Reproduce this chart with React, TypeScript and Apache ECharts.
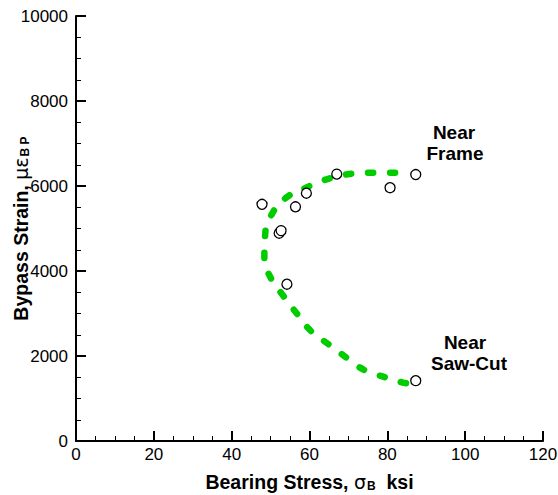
import React, { useEffect, useRef } from "react";
import * as echarts from "echarts";

// Green fitted curve, from the "Near Frame" end to the "Near Saw-Cut" end
const curveX = [82.0, 75.5, 69.8, 64.4, 59.1, 54.0, 50.3, 48.6, 48.4, 50.1, 53.3, 56.7, 60.3, 64.8, 69.4, 74.1, 79.4, 84.0, 85.5];
const curveY = [6310, 6313, 6275, 6158, 5960, 5725, 5334, 4847, 4322, 3828, 3412, 3005, 2595, 2282, 1969, 1671, 1499, 1375, 1355];

// Measured points (open circles)
const pointX = [47.8, 52.2, 52.7, 56.4, 59.2, 67.0, 80.7, 87.3, 54.2, 87.3];
const pointY = [5570, 4890, 4950, 5510, 5830, 6280, 5960, 6270, 3690, 1420];

// Axes
const xMin = 0, xMax = 120, xStep = 20;
const yMin = 0, yMax = 10000, yStep = 2000;

const FONT = "Liberation Sans";

export default function App() {
  const ref = useRef<HTMLDivElement>(null);
  useEffect(() => {
    if (!ref.current) return;
    const chart = echarts.init(ref.current, undefined, { renderer: "svg" });
    const curve = curveX.map((x, i) => [x, curveY[i]]);
    const pts = pointX.map((x, i) => [x, pointY[i]]);
    const axisCommon = {
      type: "value" as const,
      splitLine: { show: false },
      axisLine: { show: true, onZero: false, lineStyle: { color: "#000", width: 2 } },
      axisTick: { show: true, inside: true, length: 10, lineStyle: { color: "#000", width: 2 } },
      minorTick: { show: true, splitNumber: 4, length: 5, lineStyle: { color: "#000", width: 1 } },
      nameLocation: "middle" as const,
    };
    const richName = {
      m: { fontFamily: FONT, fontSize: 19.5, fontWeight: "bold", color: "#000", lineHeight: 20, verticalAlign: "middle" },
      g: { fontFamily: "DejaVu Sans", fontSize: 19, fontWeight: "normal", color: "#000", lineHeight: 20, verticalAlign: "middle" },
      s: { fontFamily: FONT, fontSize: 12, fontWeight: "bold", color: "#000", lineHeight: 12, verticalAlign: "bottom", padding: [0, 0, 0, 1] },
    };
    const plain = (v: number) => String(v);
    chart.setOption({
      animation: false,
      backgroundColor: "#fff",
      grid: { left: 76, right: 15, top: 16, bottom: 54, containLabel: false, outerBoundsMode: "none" },
      xAxis: {
        ...axisCommon,
        min: xMin,
        max: xMax,
        interval: xStep,
        axisLabel: { color: "#000", fontFamily: FONT, fontSize: 17, margin: 5, formatter: plain },
        name: "{m|Bearing Stress, }{g|σ}{s|B}{m|  ksi}",
        nameGap: 31,
        nameTextStyle: { rich: richName },
      },
      yAxis: {
        ...axisCommon,
        min: yMin,
        max: yMax,
        interval: yStep,
        axisLabel: { color: "#000", fontFamily: FONT, fontSize: 17, margin: 8, formatter: plain },
        name: "{m|Bypass Strain, }{g|με}{s|B P}",
        nameGap: 45,
        nameMoveOverlap: false,
        nameTextStyle: { rich: richName },
      },
      series: [
        {
          type: "line",
          data: curve,
          smooth: true,
          showSymbol: false,
          symbol: "none",
          lineStyle: { color: "#00cc00", width: 6.5, type: [5, 17], cap: "round" },
          z: 2,
        },
        {
          type: "scatter",
          data: pts,
          symbol: "circle",
          symbolSize: 10,
          itemStyle: { color: "#fff", borderColor: "#000", borderWidth: 1.3, opacity: 1 },
          z: 3,
        },
      ],
      graphic: [
        { type: "text", x: 454, y: 132, style: { text: "Near", font: `bold 19px ${FONT}`, fill: "#000", align: "center", verticalAlign: "middle" } },
        { type: "text", x: 455, y: 153, style: { text: "Frame", font: `bold 19px ${FONT}`, fill: "#000", align: "center", verticalAlign: "middle" } },
        { type: "text", x: 465, y: 342, style: { text: "Near", font: `bold 19px ${FONT}`, fill: "#000", align: "center", verticalAlign: "middle" } },
        { type: "text", x: 469, y: 363, style: { text: "Saw-Cut", font: `bold 19px ${FONT}`, fill: "#000", align: "center", verticalAlign: "middle" } },
      ],
    });
    return () => chart.dispose();
  }, []);
  return (
    <div
      ref={ref}
      style={{ position: "fixed", left: 0, top: 0, width: 558, height: 495, background: "#fff" }}
    />
  );
}
